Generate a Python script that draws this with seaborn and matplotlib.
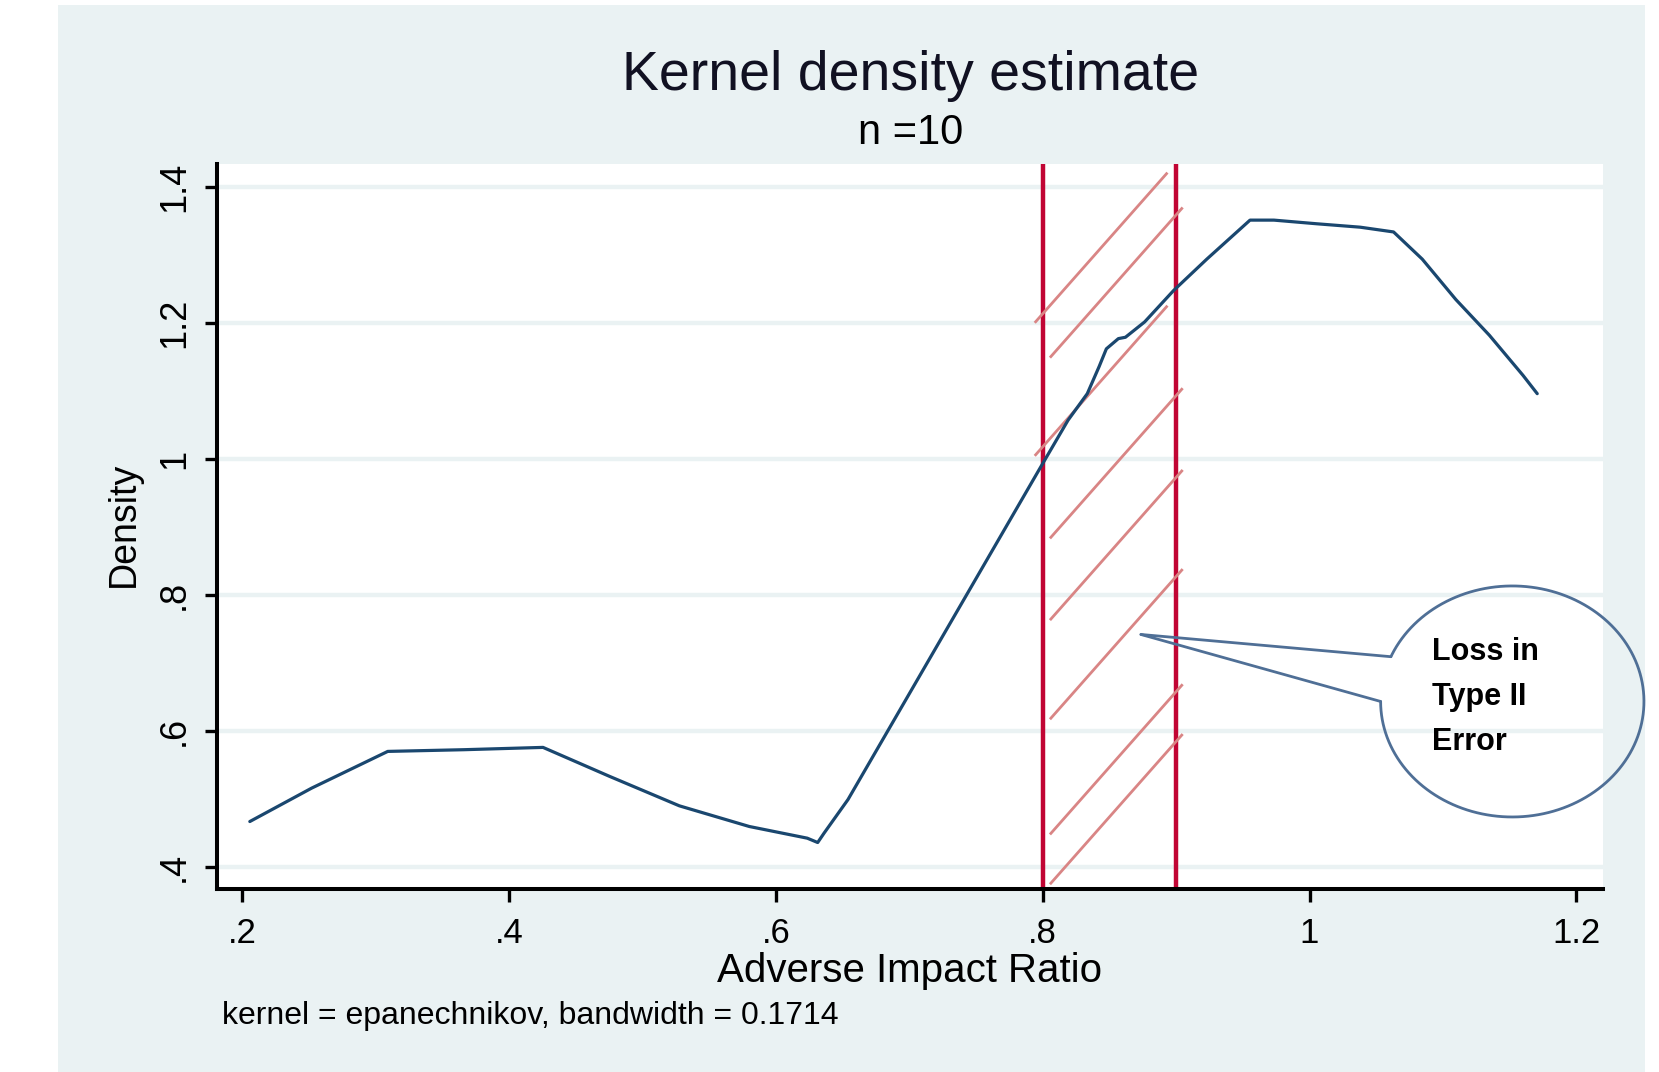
import numpy as np
import pandas as pd
import matplotlib
matplotlib.use("Agg")
import matplotlib.pyplot as plt
import seaborn as sns
from matplotlib.patches import Rectangle

# ---------------- data ----------------
air = [0.2056, 0.252, 0.309, 0.366, 0.4254, 0.475, 0.5276, 0.580, 0.6235,
       0.6313, 0.636, 0.654, 0.7975, 0.819, 0.8334,
       0.8423, 0.8477, 0.8567, 0.862, 0.8764, 0.898, 0.923, 0.9554, 0.9733,
       1.0056, 1.038, 1.063, 1.0845, 1.1097, 1.1348, 1.16, 1.1707]
density = [0.4663, 0.5155, 0.5695, 0.572, 0.5754, 0.533, 0.4894, 0.459, 0.4418,
           0.4354, 0.449, 0.4986, 0.9848, 1.057, 1.096,
           1.136, 1.162, 1.177, 1.179, 1.2016, 1.2476, 1.294, 1.3514, 1.3514,
           1.346, 1.341, 1.334, 1.294, 1.2345, 1.182, 1.123, 1.096]

cutoffs = [0.8, 0.9]
x_ticks = [0.2, 0.4, 0.6, 0.8, 1.0, 1.2]
x_tick_labels = [".2", ".4", ".6", ".8", "1", "1.2"]
y_ticks = [0.4, 0.6, 0.8, 1.0, 1.2, 1.4]
y_tick_labels = [".4", ".6", ".8", "1", "1.2", "1.4"]

# hatch strokes in the shaded band (start x, start y)
hatch_x0 = [0.794, 0.8054, 0.794, 0.8054, 0.8054, 0.8054, 0.8054, 0.8054]
hatch_y0 = [1.2003, 1.149, 1.0045, 0.883, 0.7627, 0.6168, 0.4473, 0.374]

callout_lines = ["Loss in", "Type II", "Error"]

title = "Kernel density estimate"
subtitle = "n =10"
xlabel = "Adverse Impact Ratio"
ylabel = "Density"
note = "kernel = epanechnikov, bandwidth = 0.1714"

# ---------------- style ----------------
BG = "#EAF2F3"
NAVY = "#1A476F"
RED = "#C10534"
PINK = "#D98585"
CALL = "#4F6F96"

sns.set_theme(style="white")
plt.rcParams['font.family'] = ['Liberation Sans', 'DejaVu Sans']

W, H = 1659, 1072
fig = plt.figure(figsize=(W / 100, H / 100), dpi=100, facecolor="white")
fig.patches.append(Rectangle((58 / W, 0), (1645 - 58) / W, 1 - 5 / H,
                             transform=fig.transFigure, facecolor=BG,
                             edgecolor="none", zorder=-1))

ax = fig.add_axes([217 / W, 1 - 889 / H, (1603 - 217) / W, (889 - 164) / H])
ax.set_facecolor("white")

df = pd.DataFrame({"air": air, "density": density})
sns.lineplot(data=df, x="air", y="density", ax=ax, color=NAVY, lw=2.3,
             estimator=None, sort=False, zorder=4)

for xv in cutoffs:
    ax.axvline(xv, color=RED, lw=3.2, zorder=2)

dx, dy = 0.0995, 0.221
for x0, y0 in zip(hatch_x0, hatch_y0):
    ax.plot([x0, x0 + dx], [y0, y0 + dy], color=PINK, lw=2.0, zorder=3,
            solid_capstyle="butt")

# callout ellipse with tail
cx, cy, a, b = 1.152, 0.643, 0.0987, 0.170
t1, t2 = np.deg2rad(180.0), np.deg2rad(157.2 + 360.0)
t = np.linspace(t1, t2, 300)
ax.plot(cx + a * np.cos(t), cy + b * np.sin(t), color=CALL, lw=2.0,
        clip_on=False, zorder=5)
tip = (0.8736, 0.7416)
up = (cx + a * np.cos(t2), cy + b * np.sin(t2))
lo = (cx + a * np.cos(t1), cy + b * np.sin(t1))
ax.plot([tip[0], up[0]], [tip[1], up[1]], color=CALL, lw=2.0, zorder=5)
ax.plot([tip[0], lo[0]], [tip[1], lo[1]], color=CALL, lw=2.0, zorder=5)
for s, yy in zip(callout_lines, [0.7162, 0.650, 0.5838]):
    ax.text(1.0918, yy, s, fontsize=22, fontweight="bold", ha="left",
            va="center", color="black", zorder=6)

# axes
ax.set_xlim(0.181, 1.22)
ax.set_ylim(0.367, 1.434)
ax.set_xticks(x_ticks)
ax.set_xticklabels(x_tick_labels)
ax.set_yticks(y_ticks)
ax.set_yticklabels(y_tick_labels)
ax.yaxis.grid(True, color=BG, lw=3.2)
ax.xaxis.grid(False)
ax.set_axisbelow(True)
for sp in ["top", "right"]:
    ax.spines[sp].set_visible(False)
for sp in ["left", "bottom"]:
    ax.spines[sp].set_color("black")
    ax.spines[sp].set_linewidth(2.9)
ax.tick_params(axis="both", direction="out", length=9, width=2.4,
               colors="black", labelsize=26, left=True, bottom=True)
ax.tick_params(axis="x", pad=11, labelsize=25)
ax.tick_params(axis="y", pad=9, labelrotation=90)
for lab in ax.get_yticklabels():
    lab.set_va("center")

ax.set_xlabel(xlabel, fontsize=29, color="black")
ax.xaxis.set_label_coords(0.5, -0.113)
ax.xaxis.label.set_va("center")
ax.set_ylabel(ylabel, fontsize=27, color="black")
ax.yaxis.set_label_coords(-0.067, 0.503)
ax.yaxis.label.set_va("center")

fig.text(0.5487, 0.929, title, fontsize=40, ha="center", va="center",
         color="#111122")
fig.text(0.5487, 0.876, subtitle, fontsize=30, ha="center", va="center",
         color="black")
fig.text(222 / W, 1 - 1016 / H, note, fontsize=23, ha="left", va="center",
         color="black")

fig.savefig("out.png", dpi=100, facecolor=fig.get_facecolor())
